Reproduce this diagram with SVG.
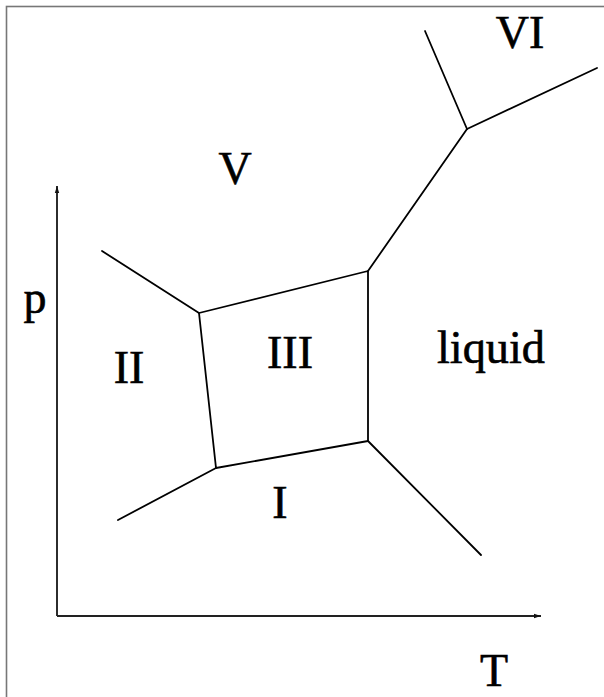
<svg xmlns="http://www.w3.org/2000/svg" width="604" height="697" viewBox="0 0 604 697">
<style>
.ln{stroke:#000;stroke-width:1.8;fill:none;stroke-linecap:round;stroke-linejoin:round}
.ax{stroke:#222;stroke-width:1.9;fill:none}
.lb{font-family:"Liberation Serif","Times New Roman","DejaVu Serif",serif;font-size:46px;fill:#000;stroke:#000;stroke-width:0.6;text-anchor:middle}
</style>
<defs>
<marker id="ah" markerWidth="8" markerHeight="6" refX="7" refY="3" orient="auto" markerUnits="userSpaceOnUse">
<path d="M0,0.8 L7,3 L0,5.2 Z" fill="#111"/>
</marker>
</defs>
<rect width="604" height="697" fill="#fff"/>
<rect x="6.5" y="6.5" width="700" height="800" fill="none" stroke="#777" stroke-width="1.6"/>
<g id="axes">
<line class="ax" x1="57" y1="616" x2="57" y2="186" marker-end="url(#ah)"/>
<line class="ax" x1="57" y1="616" x2="541" y2="616" marker-end="url(#ah)"/>
</g>
<g id="connectors">
<polygon class="ln" points="199,313 368,271 368,441 216,468"/>
<line class="ln" x1="199" y1="313" x2="102" y2="251"/>
<line class="ln" x1="216" y1="468" x2="118" y2="520"/>
<line class="ln" x1="368" y1="441" x2="481" y2="555"/>
<line class="ln" x1="368" y1="271" x2="467" y2="129"/>
<line class="ln" x1="467" y1="129" x2="425" y2="31"/>
<line class="ln" x1="467" y1="129" x2="597" y2="68"/>
</g>
<g id="label-V"><text class="lb" x="235" y="184">V</text></g>
<g id="label-VI"><text class="lb" x="520" y="48">VI</text></g>
<g id="label-p"><text class="lb" x="35" y="313">p</text></g>
<g id="label-II"><text class="lb" x="129" y="383">II</text></g>
<g id="label-III"><text class="lb" x="290" y="368">III</text></g>
<g id="label-liquid"><text class="lb" x="491" y="363" textLength="108" lengthAdjust="spacingAndGlyphs">liquid</text></g>
<g id="label-I"><text class="lb" x="280" y="518">I</text></g>
<g id="label-T"><text class="lb" x="494" y="686">T</text></g>
</svg>
